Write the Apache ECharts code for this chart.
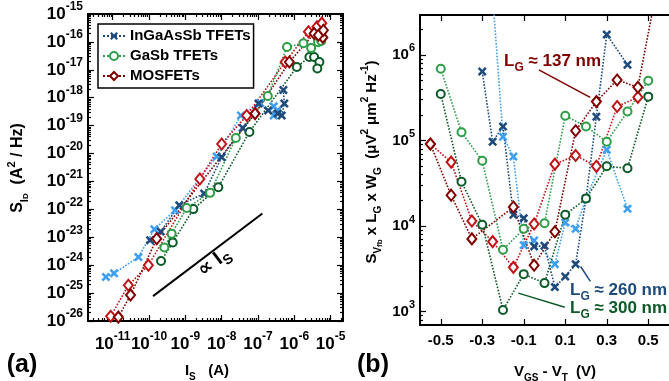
<!DOCTYPE html>
<html>
<head>
<meta charset="utf-8">
<script src="https://cdn.jsdelivr.net/npm/echarts@6/dist/echarts.min.js"></script>
<style>html,body{margin:0;padding:0;background:#fff}#chart{width:669px;height:381px}</style>
</head>
<body>
<div id="chart"></div>
<script>
// (a) S_ID vs I_S : [I_S (A), S_ID (A^2/Hz)]
var aInGaAsSbDark = [[1.07e-10, 7.9e-24], [2.1e-10, 1.6e-23], [6.8e-10, 1.4e-22], [3.3e-9, 3.7e-22], [1.0e-8, 7.4e-21], [3.8e-8, 8.3e-20], [1.03e-7, 6.2e-19], [1.9e-7, 3.5e-19], [3.5e-7, 2.7e-19], [4.5e-7, 2.3e-19], [5.3e-7, 6.2e-19], [5.0e-7, 1.9e-18]];
var aInGaAsSbLight = [[6.5e-12, 3.8e-25], [1.09e-11, 5.1e-25], [5.1e-11, 1.95e-24], [1.4e-10, 1.95e-23], [5.2e-10, 9.3e-23], [7.3e-9, 7.9e-21], [3.4e-8, 2.3e-19], [1.14e-7, 6.5e-19], [2.7e-7, 2.3e-19], [2.7e-7, 4.9e-19], [3.4e-7, 3.5e-19]];
var aGaSbLight = [[2.64e-10, 4.3e-24], [4.2e-10, 1.35e-23], [1.09e-9, 1.12e-22], [4.8e-9, 3.9e-22], [2.45e-8, 3.6e-20], [1.86e-7, 1.15e-18], [6.3e-7, 6.6e-17], [1.78e-6, 8.9e-17], [2.9e-6, 6.0e-17], [4.5e-6, 9.8e-17], [5.5e-6, 1.07e-16]];
var aGaSbDark = [[2.14e-10, 1.41e-24], [4.5e-10, 6.5e-24], [1.66e-9, 1.02e-22], [8.1e-9, 6.2e-22], [5.8e-8, 5.9e-20], [1.17e-6, 1.26e-17], [2.6e-6, 2.9e-17], [3.5e-6, 2.9e-17], [4.9e-6, 1.9e-17], [4.3e-6, 1.12e-17]];
var aMosRed = [[8.8e-12, 1.48e-26], [2.7e-11, 1.9e-25], [9.6e-11, 1.0e-24], [2.5e-9, 1.23e-21], [1.0e-8, 2.2e-20], [4.9e-8, 2.3e-19], [5.6e-7, 1.9e-17], [2.45e-6, 2.3e-16], [4.2e-6, 3.5e-16], [5.7e-6, 4.7e-16]];
var aMosDark = [[1.43e-11, 1.38e-26], [3.1e-11, 8.5e-26], [1.63e-10, 8.9e-24], [8.3e-8, 2.7e-19], [7.3e-7, 1.9e-17], [3.5e-6, 2.0e-16], [6.1e-6, 1.45e-16], [4.6e-6, 1.74e-16], [6.3e-6, 2.6e-16]];
var aSlope = [[1.29e-10, 7.8e-26], [1.32e-7, 7.1e-23]];   // "∝ I_S" guide

// (b) S_Vfb x LG x WG vs VGS - VT : [V, uV^2 um^2 / Hz]
var bInGaAsSbDark = [[-0.3, 6.4e5], [-0.25, 9.7e4], [-0.2, 1.46e5], [-0.15, 1.36e4], [-0.1, 1.24e4], [-0.05, 5.8e3], [0, 5.9e3], [0.05, 1.94e3], [0.1, 2.58e3], [0.15, 3.6e3], [0.2, 2.1e4], [0.25, 1.9e5], [0.3, 1.73e6], [0.4, 7.7e5]];
var bInGaAsSbLight = [[-0.25, 5e6], [-0.2, 1.11e5], [-0.15, 6.5e4], [-0.1, 6.0e3], [-0.05, 6.8e3], [0.05, 3.6e3], [0.1, 1.1e4], [0.15, 9.3e3], [0.2, 2.1e4], [0.3, 7.8e4], [0.4, 1.6e4]];
var bGaSbLight = [[-0.5, 6.9e5], [-0.4, 1.25e5], [-0.3, 5.8e4], [-0.2, 5.3e3], [-0.1, 9.3e3], [0, 1.08e4], [0.1, 1.95e5], [0.2, 1.46e5], [0.3, 9.7e4], [0.4, 2.18e5], [0.5, 5.0e5]];
var bGaSbDark = [[-0.5, 3.5e5], [-0.4, 3.3e4], [-0.3, 1.04e4], [-0.2, 1.05e3], [-0.1, 2.75e3], [0, 2.16e3], [0.1, 1.36e4], [0.2, 2.1e4], [0.3, 5.0e4], [0.4, 4.75e4], [0.5, 3.26e5]];
var bMosRed = [[-0.55, 9.1e4], [-0.45, 5.6e4], [-0.35, 1.15e4], [-0.25, 6.6e3], [-0.15, 3.3e3], [-0.05, 1.06e4], [0.05, 5.3e4], [0.15, 6.7e4], [0.25, 5.0e4], [0.35, 2.5e5], [0.45, 3.2e5]];
var bMosDark = [[-0.55, 9.1e4], [-0.45, 2.3e4], [-0.35, 7.1e3], [-0.15, 1.67e4], [-0.05, 3.5e3], [0.05, 8.6e3], [0.15, 1.3e5], [0.25, 2.85e5], [0.35, 5.1e5], [0.45, 4.2e5], [0.55, 7.6e6]];
var bNote137 = [[-0.027, 6.7e5], [0.22, 3.2e5]];
var bNote260 = [[0.174, 3.38e3], [0.221, 2.26e3]];
var bNote300 = [[-0.126, 1.65e3], [0.098, 1.13e3]];

// ticks
var aXExp = [-11, -10, -9, -8, -7, -6, -5];
var aYExp = [-26, -25, -24, -23, -22, -21, -20, -19, -18, -17, -16, -15];
var bXTicks = [-0.5, -0.3, -0.1, 0.1, 0.3, 0.5];
var bYExp = [3, 4, 5, 6];
var legendNames = ['InGaAsSb TFETs', 'GaSb TFETs', 'MOSFETs'];

var F = '"Liberation Sans", Arial, "DejaVu Sans", sans-serif';
var C = { navy: '#1f4a7c', sky: '#3d9ff2', green: '#2e9e48', dgreen: '#0b5a27', red: '#c01418', dred: '#7f0000' };
var CROSS = 'path://M2,0L5,3L8,0L10,2L7,5L10,8L8,10L5,7L2,10L0,8L3,5L0,2Z';

var aX = [-11.68, -4.66], aY = [-26, -15];
var bX = [-0.6, 0.6], bY = [Math.log10(700), Math.log10(2.93e6)];

function minors(lo, hi) {
  var out = [];
  for (var e = Math.floor(lo); e <= Math.ceil(hi); e++) {
    for (var k = 2; k <= 9; k++) {
      var v = e + Math.log10(k);
      if (v > lo && v < hi) out.push(v);
    }
  }
  return out;
}

function rich(size, color) {
  var sub = Math.round(size * 0.68);
  return {
    m: { fontSize: size, fontWeight: 'bold', fontFamily: F, color: color, fill: color, lineHeight: size + 8 },
    s: { fontSize: sub, fontWeight: 'bold', fontFamily: F, color: color, fill: color, lineHeight: sub, verticalAlign: 'bottom' },
    ss: { fontSize: Math.round(size * 0.5), fontWeight: 'bold', fontFamily: F, color: color, fill: color, lineHeight: Math.round(size * 0.5), verticalAlign: 'bottom' },
    p: { fontSize: sub, fontWeight: 'bold', fontFamily: F, color: color, fill: color, lineHeight: sub, verticalAlign: 'top' }
  };
}
function tickRich(big, small) {
  return {
    b: { fontSize: big, fontWeight: 'bold', fontFamily: F, color: '#000', lineHeight: big + 9 },
    s: { fontSize: small, fontWeight: 'bold', fontFamily: F, color: '#000', lineHeight: small, verticalAlign: 'top' }
  };
}
function powLabel(v) { return '{b|10}{s|' + Math.round(v) + '}'; }

function ax(grid, pos, ext, ticks, len, line, labels, fmt, margin, rt) {
  var a = {
    type: 'value', gridIndex: grid, position: pos, min: ext[0], max: ext[1],
    axisLine: { show: line, onZero: false, lineStyle: { color: '#000', width: 2 } },
    axisTick: { show: true, inside: true, length: len, customValues: ticks, lineStyle: { color: '#000', width: 1.2 } },
    axisLabel: { show: false },
    splitLine: { show: false }
  };
  if (labels) {
    a.axisLabel = { show: true, interval: 0, customValues: labels, formatter: fmt, margin: margin,
      color: '#000', fontFamily: F, fontWeight: 'bold', fontSize: 15, rich: rt };
  }
  return a;
}

function toA(pts) { return pts.map(function (p) { return [Math.log10(p[0]), Math.log10(p[1])]; }); }
function toB(pts) { return pts.map(function (p) { return [p[0], Math.log10(p[1])]; }); }

function dotted(name, data, color, kind, xi, yi) {
  var sym = kind === 'x' ? CROSS : (kind === 'o' ? 'emptyCircle' : 'emptyDiamond');
  var size = kind === 'x' ? 9 : (kind === 'o' ? 8 : [9, 11]);
  return {
    name: name, type: 'line', xAxisIndex: xi, yAxisIndex: yi, data: data,
    symbol: sym, symbolSize: size, showAllSymbol: true,
    lineStyle: { color: color, width: 1.6, type: 'dotted' },
    itemStyle: { color: color, borderWidth: kind === 'x' ? 0 : 2 },
    emphasis: { disabled: true }, z: 3
  };
}
function solid(data, color, width, xi, yi) {
  return {
    type: 'line', xAxisIndex: xi, yAxisIndex: yi, data: data, symbol: 'none',
    lineStyle: { color: color, width: width, type: 'solid' }, emphasis: { disabled: true }, z: 2
  };
}

function label(x, y, text, size, color, rot, align) {
  return {
    type: 'text', x: x, y: y, rotation: rot || 0, z: 10,
    style: { text: text, align: align || 'center', verticalAlign: 'middle', fill: color, rich: rich(size, color) }
  };
}

var chart = echarts.init(document.getElementById('chart'), null, { renderer: 'canvas' });
chart.setOption({
  animation: false,
  grid: [
    { left: 88, top: 14, width: 255, height: 307 },
    { left: 420, top: 15, width: 253.2, height: 310 }
  ],
  xAxis: [
    ax(0, 'bottom', aX, aXExp, 6, true, aXExp, powLabel, 10, tickRich(17, 12)),
    ax(0, 'bottom', aX, minors(aX[0], aX[1]), 3, false),
    ax(0, 'top', aX, aXExp, 6, true),
    ax(0, 'top', aX, minors(aX[0], aX[1]), 3, false),
    ax(1, 'bottom', bX, bXTicks, 6, true, bXTicks, function (v) { return v.toFixed(1); }, 8),
    ax(1, 'top', bX, bXTicks, 6, true)
  ],
  yAxis: [
    ax(0, 'left', aY, aYExp, 6, true, aYExp, powLabel, 5, tickRich(17, 12)),
    ax(0, 'left', aY, minors(aY[0], aY[1]), 3, false),
    ax(0, 'right', aY, aYExp, 6, true),
    ax(0, 'right', aY, minors(aY[0], aY[1]), 3, false),
    ax(1, 'left', bY, bYExp, 6, true, bYExp, powLabel, 5, tickRich(15, 11)),
    ax(1, 'left', bY, minors(bY[0], bY[1]), 3, false)
  ],
  legend: {
    left: 98, top: 24, orient: 'vertical', data: legendNames, selectedMode: false,
    itemWidth: 22, itemHeight: 10, itemGap: 5, padding: [4.5, 3, 4.5, 4],
    borderColor: '#000', borderWidth: 1.5, backgroundColor: '#fff',
    textStyle: { fontFamily: F, fontWeight: 'bold', fontSize: 15, lineHeight: 15, color: '#000' }
  },
  series: [
    solid(toA(aSlope), '#000', 2, 0, 0),
    dotted('InGaAsSb light', toA(aInGaAsSbLight), C.sky, 'x', 0, 0),
    dotted('GaSb dark', toA(aGaSbDark), C.dgreen, 'o', 0, 0),
    dotted('MOSFETs red', toA(aMosRed), C.red, 'd', 0, 0),
    dotted('InGaAsSb TFETs', toA(aInGaAsSbDark), C.navy, 'x', 0, 0),
    dotted('GaSb TFETs', toA(aGaSbLight), C.green, 'o', 0, 0),
    dotted('MOSFETs', toA(aMosDark), C.dred, 'd', 0, 0),

    dotted('b InGaAsSb light', toB(bInGaAsSbLight), C.sky, 'x', 4, 4),
    dotted('b InGaAsSb dark', toB(bInGaAsSbDark), C.navy, 'x', 4, 4),
    dotted('b GaSb light', toB(bGaSbLight), C.green, 'o', 4, 4),
    dotted('b GaSb dark', toB(bGaSbDark), C.dgreen, 'o', 4, 4),
    dotted('b MOS red', toB(bMosRed), C.red, 'd', 4, 4),
    dotted('b MOS dark', toB(bMosDark), C.dred, 'd', 4, 4),
    solid(toB(bNote137), C.dred, 1.5, 4, 4),
    solid(toB(bNote260), C.navy, 1.5, 4, 4),
    solid(toB(bNote300), C.dgreen, 1.5, 4, 4)
  ],
  graphic: [
    label(18, 168, '{m|S}{s|I}{ss|D}{m|  (A}{p|2}{m| / Hz)}', 16, '#000', Math.PI / 2),
    label(207, 371, '{m|I}{s|S}{m|   (A)}', 15, '#000'),
    label(22, 365, '{m|(a)}', 25, '#000'),
    label(214, 262, '{m|∝ I}{s|S}', 20, '#000', 0.65),
    label(372, 162, '{m|S}{s|V}{ss|fb}{m| x L}{s|G}{m| x W}{s|G}{m|  (μV}{p|2}{m| μm}{p|2}{m| Hz}{p|-1}{m|)}', 15, '#000', Math.PI / 2),
    label(555, 372, '{m|V}{s|GS}{m| - V}{s|T}{m|  (V)}', 15, '#000'),
    label(373, 365, '{m|(b)}', 25, '#000'),
    label(504, 61, '{m|L}{s|G}{m| ≈ 137 nm}', 17, C.dred, 0, 'left'),
    label(570, 290, '{m|L}{s|G}{m| ≈ 260 nm}', 17, C.navy, 0, 'left'),
    label(570, 308, '{m|L}{s|G}{m| ≈ 300 nm}', 17, C.dgreen, 0, 'left')
  ]
});
</script>
</body>
</html>
